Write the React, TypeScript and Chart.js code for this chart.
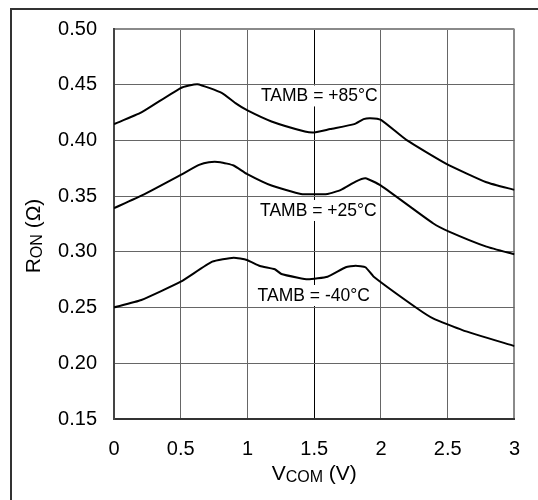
import React, { useEffect, useRef } from "react";
import { Chart, registerables } from "chart.js";

Chart.register(...registerables);

const FONT = "'Liberation Sans', Arial, Helvetica, sans-serif";

// Series: T_AMB = +85°C
const VCOM_85 = [0, 0.205, 0.5, 0.625, 0.81, 0.91, 1.0, 1.18, 1.43, 1.5, 1.62, 1.8, 1.87, 1.92, 2.0, 2.19, 2.49, 2.79, 3.0];
const RON_85 = [0.4146, 0.4251, 0.447, 0.4505, 0.4425, 0.4335, 0.4269, 0.417, 0.408, 0.4071, 0.4102, 0.4146, 0.4191, 0.42, 0.4185, 0.4005, 0.379, 0.3625, 0.3556];

// Series: T_AMB = +25°C
const VCOM_25 = [0, 0.217, 0.5, 0.637, 0.711, 0.797, 0.896, 0.995, 1.18, 1.4, 1.6, 1.7, 1.81, 1.884, 2.0, 2.39, 2.51, 2.79, 3.0];
const RON_25 = [0.3392, 0.3511, 0.3691, 0.378, 0.3805, 0.3805, 0.3775, 0.37, 0.3595, 0.352, 0.352, 0.3556, 0.3631, 0.3661, 0.3595, 0.3257, 0.3182, 0.3047, 0.2978];

// Series: T_AMB = -40°C
const VCOM_M40 = [0, 0.205, 0.5, 0.736, 0.896, 0.995, 1.094, 1.205, 1.254, 1.378, 1.452, 1.6, 1.736, 1.81, 1.884, 1.946, 2.27, 2.39, 2.61, 3.0];
const RON_M40 = [0.2502, 0.2568, 0.2732, 0.2912, 0.2948, 0.2927, 0.2873, 0.2844, 0.2801, 0.2768, 0.2754, 0.2777, 0.2862, 0.2876, 0.2862, 0.2777, 0.2494, 0.2403, 0.2298, 0.2154];

// Curve labels
const LABELS = ["TAMB = +85°C", "TAMB = +25°C", "TAMB = -40°C"];
const LABEL_X = [1.101, 1.094, 1.076];
const LABEL_Y = [0.435, 0.3322, 0.2559];

// Axes
const X_MIN = 0;
const X_MAX = 3;
const X_STEP = 0.5;
const Y_MIN = 0.15;
const Y_MAX = 0.5;
const Y_STEP = 0.05;

const X_TITLE = ["V", "COM", " (V)"];
const Y_TITLE = ["R", "ON", " (Ω)"];

const toPoints = (xs: number[], ys: number[]) => xs.map((x, i) => ({ x, y: ys[i] }));

const decorPlugin = {
  id: "decor",
  beforeDraw(chart: any) {
    const ctx = chart.ctx;
    ctx.save();
    ctx.fillStyle = "#fff";
    ctx.fillRect(0, 0, chart.width, chart.height);
    ctx.strokeStyle = "#333";
    ctx.lineWidth = 2;
    ctx.beginPath();
    ctx.moveTo(11, chart.height + 2);
    ctx.lineTo(11, 9);
    ctx.lineTo(chart.width + 2, 9);
    ctx.stroke();
    ctx.restore();
  },
  afterDraw(chart: any) {
    const ctx = chart.ctx;
    const xs = chart.scales.x;
    const ys = chart.scales.y;
    const area = chart.chartArea;
    ctx.save();
    // curve labels with white backing
    ctx.font = `17.5px ${FONT}`;
    ctx.textBaseline = "alphabetic";
    ctx.textAlign = "left";
    LABELS.forEach((t, i) => {
      const px = xs.getPixelForValue(LABEL_X[i]);
      const py = ys.getPixelForValue(LABEL_Y[i]);
      const w = ctx.measureText(t).width;
      ctx.fillStyle = "#fff";
      ctx.fillRect(px - 2, py - 16, w + 4, 21);
      ctx.fillStyle = "#000";
      ctx.fillText(t, px, py);
    });

    const big = `21px ${FONT}`;
    const small = `16px ${FONT}`;
    const measure = (parts: string[]) => {
      ctx.font = big;
      const a = ctx.measureText(parts[0]).width;
      const c = ctx.measureText(parts[2]).width;
      ctx.font = small;
      const b = ctx.measureText(parts[1]).width;
      return [a, b, c];
    };
    const drawParts = (parts: string[], x0: number, y0: number) => {
      const [a, b] = measure(parts);
      ctx.fillStyle = "#000";
      ctx.font = big;
      ctx.fillText(parts[0], x0, y0);
      ctx.font = small;
      ctx.fillText(parts[1], x0 + a, y0 + 2);
      ctx.font = big;
      ctx.fillText(parts[2], x0 + a + b, y0);
    };

    // x title
    const xw = measure(X_TITLE).reduce((s, v) => s + v, 0);
    const cx = (area.left + area.right) / 2;
    drawParts(X_TITLE, cx - xw / 2, 480);

    // y title
    const yw = measure(Y_TITLE).reduce((s, v) => s + v, 0);
    ctx.translate(40, 236);
    ctx.rotate(-Math.PI / 2);
    drawParts(Y_TITLE, -yw / 2, 0);
    ctx.restore();
  },
};

export default function App() {
  const ref = useRef<HTMLCanvasElement | null>(null);

  useEffect(() => {
    if (!ref.current) return;
    const near = (a: number, b: number) => Math.abs(a - b) < 1e-6;
    const line = (data: { x: number; y: number }[], label: string) => ({
      label,
      data,
      borderColor: "#000",
      backgroundColor: "#000",
      borderWidth: 2,
      pointRadius: 0,
      tension: 0.15,
      fill: false,
    });
    const chart = new Chart(ref.current, {
      type: "line",
      data: {
        datasets: [
          line(toPoints(VCOM_85, RON_85), LABELS[0]),
          line(toPoints(VCOM_25, RON_25), LABELS[1]),
          line(toPoints(VCOM_M40, RON_M40), LABELS[2]),
        ],
      },
      options: {
        animation: false,
        responsive: true,
        maintainAspectRatio: false,
        layout: { padding: { top: 29, right: 19, left: 0, bottom: 0 } },
        plugins: {
          legend: { display: false },
          tooltip: { enabled: false },
          title: { display: false },
        },
        scales: {
          x: {
            type: "linear",
            min: X_MIN,
            max: X_MAX,
            afterFit: (s: any) => {
              s.height = 81;
            },
            ticks: {
              stepSize: X_STEP,
              color: "#000",
              font: { family: FONT, size: 20 },
              padding: 18,
              maxRotation: 0,
              callback: (v: any) => String(Number(v)),
            },
            grid: {
              drawTicks: false,
              color: (c: any) => {
                const v = c.tick?.value;
                if (v === undefined) return "#666";
                if (near(v, 1.5)) return "#000";
                if (near(v, X_MAX)) return "#8a8a8a";
                return "#666";
              },
              lineWidth: (c: any) => (c.tick && near(c.tick.value, X_MAX) ? 2 : 1),
            },
            border: { display: true, color: "#333", width: 2 },
          },
          y: {
            type: "linear",
            min: Y_MIN,
            max: Y_MAX,
            afterFit: (s: any) => {
              s.width = 114;
            },
            ticks: {
              stepSize: Y_STEP,
              color: "#000",
              font: { family: FONT, size: 20 },
              padding: 17,
              callback: (v: any) => Number(v).toFixed(2),
            },
            grid: {
              drawTicks: false,
              color: (c: any) => {
                const v = c.tick?.value;
                if (v !== undefined && near(v, Y_MAX)) return "#8a8a8a";
                return "#666";
              },
              lineWidth: (c: any) => (c.tick && near(c.tick.value, Y_MAX) ? 2 : 1),
            },
            border: { display: true, color: "#444", width: 2 },
          },
        },
      },
      plugins: [decorPlugin],
    });
    return () => chart.destroy();
  }, []);

  return (
    <div style={{ position: "fixed", left: 0, top: 0, width: 538, height: 500, background: "#fff" }}>
      <canvas ref={ref} />
    </div>
  );
}
